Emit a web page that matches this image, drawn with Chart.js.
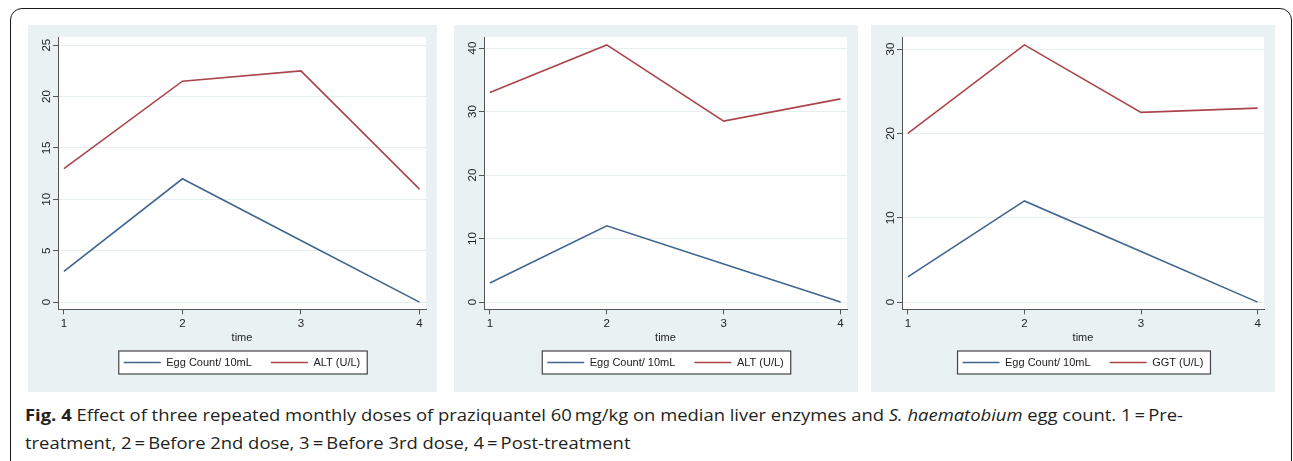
<!DOCTYPE html>
<html><head><meta charset="utf-8">
<script src="https://cdn.jsdelivr.net/npm/chart.js@4/dist/chart.umd.min.js"></script>
<style>
html,body{margin:0;padding:0;background:#fff;width:1293px;height:461px;overflow:hidden;position:relative}
#frame{position:absolute;left:10px;top:8px;width:1282px;height:480px;border:1.5px solid #1a1a1a;border-radius:12px;box-sizing:border-box}
.panel{position:absolute;top:25px;height:367px;background:#e9f1f3}
.panel canvas{display:block}
.cap{position:absolute;left:25px;font-family:"Open Sans",sans-serif;font-size:16px;line-height:20px;color:#231f20;white-space:nowrap;transform-origin:0 50%}
</style></head>
<body>
<div id="frame"></div>
<div class="panel" style="left:28px;width:409px"><canvas id="c1" width="409" height="367"></canvas></div>
<div class="panel" style="left:454px;width:404px"><canvas id="c2" width="404" height="367"></canvas></div>
<div class="panel" style="left:871px;width:404px"><canvas id="c3" width="404" height="367"></canvas></div>
<div class="cap" id="cap1" style="top:405px"><b>Fig. 4</b> Effect of three repeated monthly doses of praziquantel 60&#8201;mg/kg on median liver enzymes and <i>S. haematobium</i> egg count. 1&#8201;=&#8201;Pre-</div>
<div class="cap" id="cap2" style="top:433px">treatment, 2&#8201;=&#8201;Before 2nd dose, 3&#8201;=&#8201;Before 3rd dose, 4&#8201;=&#8201;Post-treatment</div>
<script>
// ---- data ----
const timePoints = [1, 2, 3, 4];
const xTickLabels = ['1', '2', '3', '4'];
const xTitle = 'time';

const eggCount1 = [3, 12, 6, 0];
const alt1 = [13, 21.5, 22.5, 11];
const names1 = ['Egg Count/ 10mL', 'ALT (U/L)'];
const yTicks1 = [0, 5, 10, 15, 20, 25];

const eggCount2 = [3, 12, 6, 0];
const alt2 = [33, 40.5, 28.5, 32];
const names2 = ['Egg Count/ 10mL', 'ALT (U/L)'];
const yTicks2 = [0, 10, 20, 30, 40];

const eggCount3 = [3, 12, 6, 0];
const ggt3 = [20, 30.5, 22.5, 23];
const names3 = ['Egg Count/ 10mL', 'GGT (U/L)'];
const yTicks3 = [0, 10, 20, 30];

// ---- style ----
const FONT = '"Liberation Sans", Arial, sans-serif';
const FS = 11;
const TFS = 11.5;
const BLUE = '#40668f';
const RED = '#ab454c';
const AXIS = '#555555';
const TEXT = '#222222';
Chart.defaults.font.family = FONT;

const whiteArea = {
  id: 'whiteArea',
  beforeDraw(chart) {
    const a = chart.chartArea, ctx = chart.ctx;
    ctx.save(); ctx.fillStyle = '#ffffff';
    ctx.fillRect(a.left, a.top, a.right - a.left, a.bottom - a.top);
    ctx.restore();
  }
};
const legendBox = {
  id: 'legendBox',
  beforeDraw(chart) {
    const lg = chart.legend; if (!lg || !lg.legendHitBoxes.length) return;
    const hb = lg.legendHitBoxes;
    const l = hb[0].left - 5, r = hb[hb.length - 1].left + hb[hb.length - 1].width + 7;
    const cy = hb[0].top + hb[0].height / 2;
    const ctx = chart.ctx;
    ctx.save();
    ctx.fillStyle = '#ffffff';
    ctx.fillRect(l, cy - 11.5, r - l, 23);
    ctx.strokeStyle = '#444'; ctx.lineWidth = 1.2;
    ctx.strokeRect(l, cy - 11.5, r - l, 23);
    ctx.restore();
  }
};

function makeChart(id, egg, enz, names, yTicks, yMin, yMax, leftW) {
  new Chart(document.getElementById(id), {
    type: 'line',
    data: {
      datasets: [
        { label: names[0], data: timePoints.map((t, i) => ({ x: t, y: egg[i] })), borderColor: BLUE, backgroundColor: BLUE, borderWidth: 1.6, pointRadius: 0, tension: 0 },
        { label: names[1], data: timePoints.map((t, i) => ({ x: t, y: enz[i] })), borderColor: RED, backgroundColor: RED, borderWidth: 1.6, pointRadius: 0, tension: 0 }
      ]
    },
    options: {
      responsive: false, animation: false, devicePixelRatio: 1,
      layout: { padding: { left: 0, right: 11, top: 12, bottom: 14 } },
      plugins: {
        legend: {
          position: 'bottom', fullSize: false,
          labels: { usePointStyle: true, pointStyle: 'line', pointStyleWidth: 37, boxHeight: 11, padding: 19, color: TEXT, font: { family: FONT, size: FS } }
        },
        tooltip: { enabled: false }
      },
      scales: {
        x: {
          type: 'linear', min: 0.95, max: 4.055,
          afterBuildTicks: s => { s.ticks = timePoints.map(v => ({ value: v })); },
          afterFit: s => { s.height = 28.7; },
          ticks: { callback: (v) => xTickLabels[timePoints.indexOf(v)], color: TEXT, font: { size: TFS }, padding: 3, maxRotation: 0, autoSkip: false },
          grid: { drawOnChartArea: false, tickLength: 5, tickColor: AXIS, tickWidth: 1 },
          border: { color: AXIS, width: 1 },
          title: { display: true, text: xTitle, color: TEXT, font: { size: FS }, padding: { top: 0, bottom: -6.5 } }
        },
        y: {
          min: yMin, max: yMax,
          afterBuildTicks: s => { s.ticks = yTicks.map(v => ({ value: v })); },
          afterFit: s => { s.width = leftW; },
          ticks: { minRotation: 90, maxRotation: 90, crossAlign: 'center', padding: 0, color: TEXT, font: { size: TFS } },
          grid: { color: '#e6eef0', lineWidth: 1, tickLength: 5, tickColor: AXIS, tickWidth: 1 },
          border: { color: AXIS, width: 1 }
        }
      }
    },
    plugins: [whiteArea, legendBox]
  });
}

makeChart('c1', eggCount1, alt1, names1, yTicks1, -0.7, 25.8, 30);
makeChart('c2', eggCount2, alt2, names2, yTicks2, -1.15, 41.75, 30);
makeChart('c3', eggCount3, ggt3, names3, yTicks3, -0.85, 31.43, 31);

// fit caption width to reference line length
const c1 = document.getElementById('cap1'), c2 = document.getElementById('cap2');
const sc = 1158 / c1.getBoundingClientRect().width;
c1.style.transform = 'scaleX(' + sc + ')';
c2.style.transform = 'scaleX(' + sc + ')';
</script>
</body></html>
